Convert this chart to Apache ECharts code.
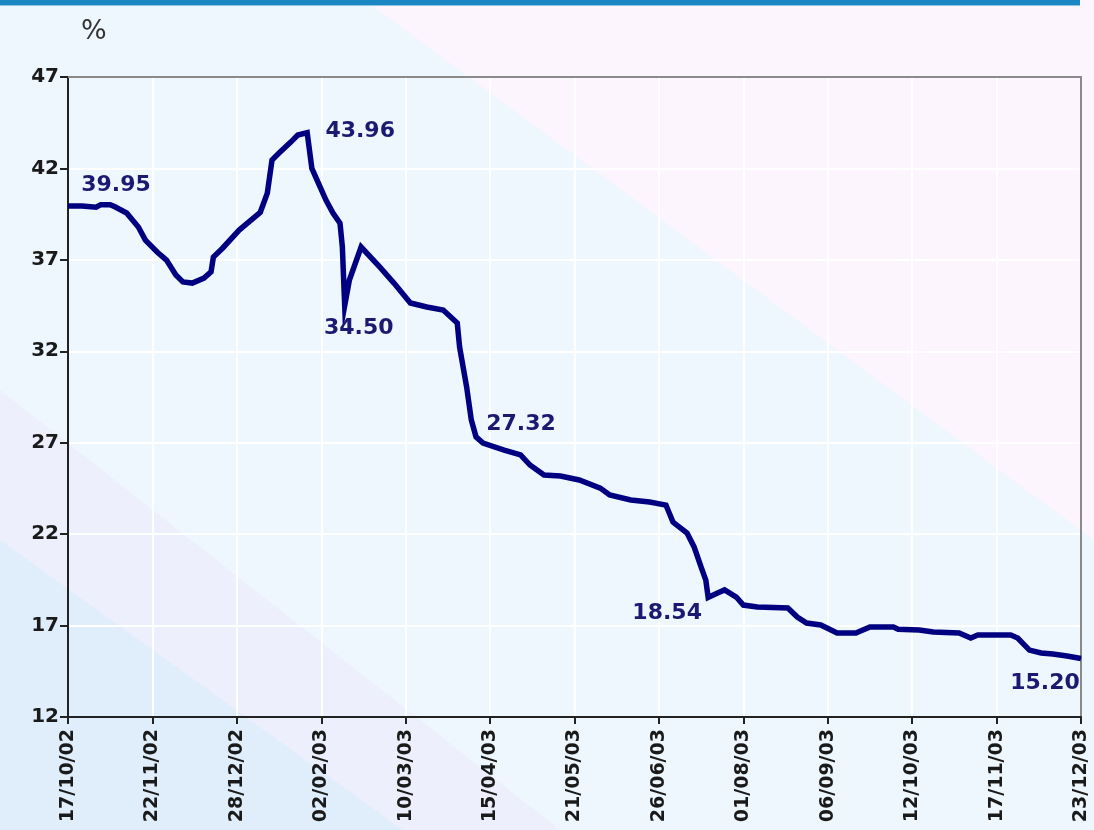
<!DOCTYPE html>
<html>
<head>
<meta charset="utf-8">
<script src="https://cdn.jsdelivr.net/npm/echarts@6/dist/echarts.min.js"></script>
<style>
html,body{margin:0;padding:0;background:#eef6fe;}
#chart{width:1094px;height:830px;}
</style>
</head>
<body>
<div id="chart"></div>
<script>
// Start date of the series (day 0)
const startDate = [2002, 10, 17];
// Days elapsed since the start date for each observation
const dayOffsets = [0, 6, 12, 14, 18, 20, 25, 30, 33, 38, 42, 46, 49, 53, 58, 61, 62, 66, 73, 82,
  85, 87, 90, 95, 98, 102, 104, 110, 113, 116, 117, 118, 120, 125, 133, 139, 146, 153, 160, 166,
  167, 170, 172, 174, 177, 186, 193, 197, 203, 210, 218, 227, 231, 240, 248, 255, 258, 264, 267, 270,
  272, 273, 277, 280, 285, 288, 294, 307, 311, 315, 321, 328, 336, 342, 352, 354, 363, 369, 380, 385,
  388, 402, 405, 410, 415, 420, 426, 432];
// Percentage values
const percentValues = [39.95, 39.95, 39.88, 40.02, 40.02, 39.9, 39.56, 38.8, 38.08, 37.43, 36.99, 36.17, 35.79, 35.73, 36.0, 36.34, 37.15, 37.65, 38.63, 39.6,
  40.65, 42.46, 42.84, 43.44, 43.83, 43.96, 42.0, 40.27, 39.56, 39.0, 37.7, 34.50, 35.9, 37.7, 36.6, 35.73, 34.64, 34.42, 34.26, 33.55,
  32.23, 30.05, 28.24, 27.32, 26.98, 26.6, 26.33, 25.78, 25.23, 25.18, 24.96, 24.52, 24.14, 23.87, 23.76, 23.59, 22.66, 22.06, 21.3, 20.2,
  19.49, 18.54, 18.78, 18.95, 18.56, 18.12, 18.02, 17.96, 17.47, 17.14, 17.03, 16.59, 16.59, 16.92, 16.92, 16.8, 16.76, 16.65, 16.59, 16.32,
  16.48, 16.48, 16.32, 15.66, 15.5, 15.45, 15.34, 15.20];
// Days of the annotated points
const annotatedDays = [0, 102, 118, 174, 273, 432];
// Axis settings
const yMin = 12, yMax = 47, yStep = 5;
const xStepDays = 36, xSpanDays = 432;
const yAxisUnit = '%';

const startMs = Date.UTC(startDate[0], startDate[1] - 1, startDate[2]);
function fmtDate(d) {
  const dt = new Date(startMs + Math.round(d) * 86400000);
  const p = n => (n < 10 ? '0' : '') + n;
  return p(dt.getUTCDate()) + '/' + p(dt.getUTCMonth() + 1) + '/' + p(dt.getUTCFullYear() % 100);
}

const lineData = dayOffsets.map((d, i) => [d, percentValues[i]]);
const labelOffsets = [[48, -21], [53, -1], [14, 23], [45, -13], [-41, 16], [-36, 25]];
const annotData = annotatedDays.map((d, k) => {
  const i = dayOffsets.indexOf(d);
  return {
    value: [d, percentValues[i]],
    label: { offset: labelOffsets[k] }
  };
});

const chart = echarts.init(document.getElementById('chart'), null, {renderer: 'canvas'});
const W = 1094, H = 830;
const hiddenAxis = {
  show: true,
  axisLine: { show: true, onZero: false, lineStyle: { color: '#8a8a8a', width: 2 } },
  axisTick: { show: false }, axisLabel: { show: false }, splitLine: { show: false }
};
chart.setOption({
  backgroundColor: '#eef6fe',
  animation: false,
  graphic: [
    { type: 'polygon', z: -100, silent: true,
      shape: { points: [[365, 0], [W, 0], [W, 540]] },
      style: { fill: '#fdf5fd' } },
    { type: 'polygon', z: -100, silent: true,
      shape: { points: [[0, 390], [560, 830], [0, 830]] },
      style: { fill: '#eeeffc' } },
    { type: 'polygon', z: -99, silent: true,
      shape: { points: [[0, 540], [403, 830], [0, 830]] },
      style: { fill: '#e0eefc' } },
    { type: 'rect', z: 100, silent: true,
      shape: { x: 0, y: 0, width: 1080, height: 5 },
      style: { fill: '#1b87c2' } },
    { type: 'rect', z: 100, silent: true,
      shape: { x: 0, y: 5, width: 1080, height: 1 },
      style: { fill: '#8cc4e6' } },
    { type: 'text', z: 100, left: 81, top: 18,
      style: { text: yAxisUnit, font: '27px "DejaVu Sans"', fill: '#333' } }
  ],
  grid: {
    left: 68, right: 13, top: 77, bottom: 113
  },
  xAxis: [{
    type: 'value', min: 0, max: xSpanDays, interval: xStepDays,
    axisLine: { show: true, onZero: false, lineStyle: { color: '#222', width: 2 } },
    axisTick: { show: true, length: 7, lineStyle: { color: '#222', width: 2 } },
    splitLine: { show: true, lineStyle: { color: '#ffffff', width: 2 } },
    axisLabel: {
      rotate: 90, margin: 12,
      formatter: v => fmtDate(v),
      fontFamily: 'DejaVu Sans', fontWeight: 'bold', fontSize: 19, color: '#1a1a1a'
    }
  }, Object.assign({ type: 'value', position: 'top', min: 0, max: xSpanDays, interval: xStepDays }, hiddenAxis)],
  yAxis: [{
    type: 'value', min: yMin, max: yMax, interval: yStep,
    axisLine: { show: true, onZero: false, lineStyle: { color: '#222', width: 2 } },
    axisTick: { show: true, length: 8, lineStyle: { color: '#222', width: 2 } },
    splitLine: { show: true, lineStyle: { color: '#ffffff', width: 2 } },
    axisLabel: {
      margin: 9,
      fontFamily: 'DejaVu Sans', fontWeight: 'bold', fontSize: 20, color: '#1a1a1a'
    }
  }, Object.assign({ type: 'value', position: 'right', min: yMin, max: yMax, interval: yStep }, hiddenAxis)],
  series: [
    {
      type: 'line', data: lineData, showSymbol: false, symbol: 'none',
      lineStyle: { color: '#000080', width: 5.5, join: 'miter' },
      z: 5
    },
    {
      type: 'scatter', data: annotData, symbolSize: 1,
      itemStyle: { color: '#000080', opacity: 1 },
      label: {
        show: true, position: 'inside', opacity: 1,
        formatter: p => p.value[1].toFixed(2),
        textBorderWidth: 0, textBorderColor: 'transparent',
        fontFamily: 'DejaVu Sans', fontWeight: 'bold', fontSize: 22, color: '#1a1a72'
      },
      z: 6
    }
  ]
});
</script>
</body>
</html>
